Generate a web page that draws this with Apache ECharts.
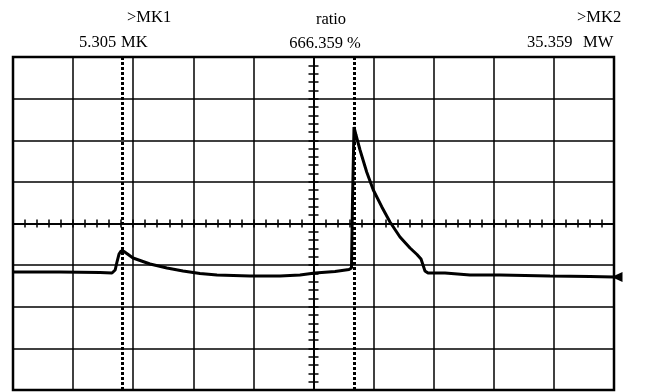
<!DOCTYPE html>
<html><head><meta charset="utf-8">
<script src="https://cdn.jsdelivr.net/npm/echarts@6/dist/echarts.min.js"></script>
<style>html,body{margin:0;padding:0;background:#fff}#c{width:645px;height:392px}</style>
</head><body><div id="c"></div>
<script>
// trace, in screen divisions (x: -5..5, y: -4..4, centre = 0,0)
var traceX = [-5, -4.218, -3.552, -3.353, -3.30, -3.270, -3.236, -3.203, -3.153, -3.003, -2.72, -2.438, -2.171, -1.889, -1.606, -1.057, -0.557, -0.225, 0.025, 0.358, 0.591, 0.632, 0.649, 0.674, 0.707, 0.774, 0.885, 0.995, 1.135, 1.273, 1.439, 1.606, 1.722, 1.789, 1.822, 1.855, 1.905, 2.188, 2.604, 3.103, 3.935, 4.601, 5.0];
var traceY = [-1.165, -1.165, -1.177, -1.19, -1.117, -0.925, -0.733, -0.661, -0.673, -0.829, -0.973, -1.069, -1.141, -1.201, -1.237, -1.261, -1.261, -1.237, -1.189, -1.153, -1.105, -1.069, 0.565, 2.318, 2.126, 1.766, 1.237, 0.805, 0.404, 0.036, -0.324, -0.589, -0.745, -0.853, -0.997, -1.141, -1.189, -1.189, -1.237, -1.237, -1.261, -1.273, -1.285];
var markerNames = ['MK1', 'MK2'];
var markerX = [-3.19, 0.674];
var groundY = [-1.285];
var readoutTop = ['>MK1', 'ratio', '>MK2'];
var readoutBottom = ['5.305', 'MK', '666.359 %', '35.359', 'MW'];

var data = traceX.map(function (x, i) { return [x, traceY[i]]; });
var font = "16.5px 'Liberation Serif'";
function txt(s, x, y, align) {
  return { type: 'text', x: x, y: y, style: { text: s, font: font, fill: '#000', align: align || 'left', verticalAlign: 'top' } };
}
var black = '#000';
function tickAxis(dim, inside, len) {
  return {
    type: 'value', min: dim === 'x' ? -5 : -4, max: dim === 'x' ? 5 : 4, interval: 0.2,
    axisLine: { show: true, onZero: true, onZeroAxisIndex: 0, lineStyle: { color: black, width: 1.5 } },
    axisTick: { show: true, inside: inside, length: len, lineStyle: { color: black, width: 1.5 } },
    axisLabel: { show: false }, splitLine: { show: false }
  };
}
var chart = echarts.init(document.getElementById('c'), null, { renderer: 'canvas' });
chart.setOption({
  animation: false,
  backgroundColor: '#fff',
  grid: { left: 13, right: 31, top: 57, bottom: 2, show: true, borderColor: black, borderWidth: 2.5, backgroundColor: '#fff' },
  xAxis: [
    { type: 'value', min: -5, max: 5, interval: 1, axisLine: { show: false }, axisTick: { show: false }, axisLabel: { show: false },
      splitLine: { show: true, lineStyle: { color: black, width: 1.5 } } },
    tickAxis('x', true, 4), tickAxis('x', false, 4)
  ],
  yAxis: [
    { type: 'value', min: -4, max: 4, interval: 1, axisLine: { show: false }, axisTick: { show: false }, axisLabel: { show: false },
      splitLine: { show: true, lineStyle: { color: black, width: 1.5 } } },
    tickAxis('y', true, 5), tickAxis('y', false, 5)
  ],
  series: [{
    type: 'line', data: data, xAxisIndex: 0, yAxisIndex: 0, showSymbol: false, symbol: 'none',
    lineStyle: { color: black, width: 3 },
    markLine: {
      silent: true, symbol: ['none', 'none'], label: { show: false },
      lineStyle: { color: black, type: [3, 2], width: 3 },
      data: markerX.map(function (v, i) { return { name: markerNames[i], xAxis: v }; })
    },
    markPoint: {
      silent: true, label: { show: false },
      data: [{ coord: [5, groundY[0]], symbol: 'triangle', symbolRotate: 90, symbolSize: [10, 11], symbolOffset: [3, 0], itemStyle: { color: black } }]
    }
  }],
  graphic: [
    txt(readoutTop[0], 127, 9), txt(readoutTop[1], 331, 11, 'center'), txt(readoutTop[2], 577, 9),
    txt(readoutBottom[0], 79, 34), txt(readoutBottom[1], 121, 34), txt(readoutBottom[2], 325, 35, 'center'),
    txt(readoutBottom[3], 527, 34), txt(readoutBottom[4], 583, 34)
  ]
});
</script></body></html>
